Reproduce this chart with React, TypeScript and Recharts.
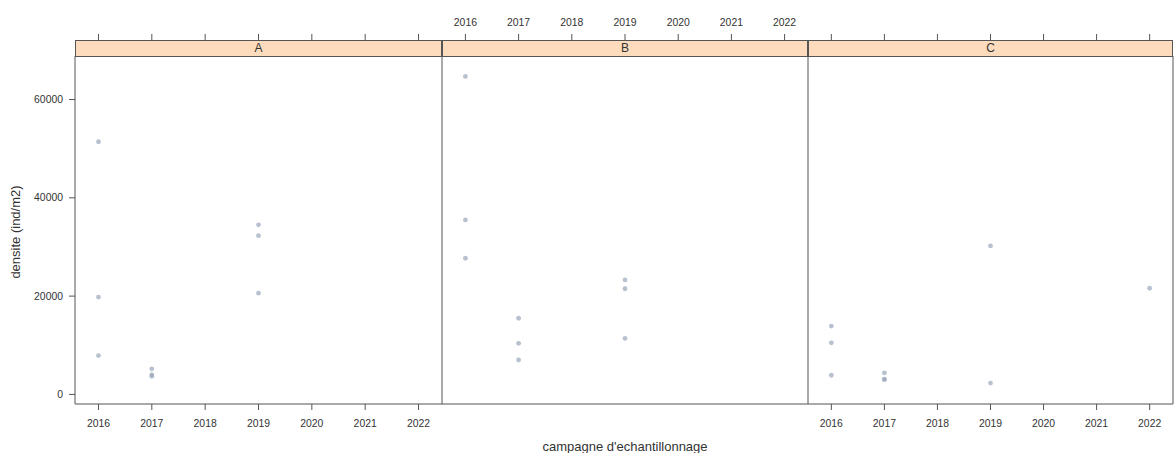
import { ScatterChart, Scatter, XAxis, YAxis } from 'recharts';

// campagnes (années) et densités relevées, par station
const annees = [2016, 2017, 2018, 2019, 2020, 2021, 2022];
const densiteTicks = [0, 20000, 40000, 60000];

const anneeA = [2016, 2016, 2016, 2017, 2017, 2017, 2019, 2019, 2019];
const densiteA = [51400, 19800, 7900, 5200, 4000, 3700, 34500, 32300, 20600];

const anneeB = [2016, 2016, 2016, 2017, 2017, 2017, 2019, 2019, 2019];
const densiteB = [64700, 35500, 27700, 15500, 10400, 7000, 23300, 21500, 11400];

const anneeC = [2016, 2016, 2016, 2017, 2017, 2017, 2019, 2019, 2022];
const densiteC = [13900, 10500, 3900, 4400, 3100, 3000, 30200, 2300, 21600];

const xDomain = [2015.56, 2022.44];
const yDomain = [-1950, 68850];

const font = '"Liberation Sans", Arial, sans-serif';
const frame = '#555';
const textCol = '#333';
const stripBg = '#fcdcbc';
const pointCol = '#9aa6ba';

const STRIP_TOP = 40;
const PLOT_TOP = 56;
const H = 453;

const toPoints = (x: number[], y: number[]) => x.map((a, i) => ({ annee: a, densite: y[i] }));

const TopTick = ({ x, y, payload, showLabel }: any) => (
    <g>
        <line x1={x} x2={x} y1={y - (PLOT_TOP - STRIP_TOP)} y2={y - (PLOT_TOP - STRIP_TOP) - 6} stroke={frame} />
        {showLabel && (
            <text x={x} y={y - 30} textAnchor="middle" fontSize={10.4} fill={textCol}>
                {payload.value}
            </text>
        )}
    </g>
);

const Point = (p: any) => <circle cx={p.cx} cy={p.cy} r={2.4} fill={pointCol} fillOpacity={0.7} />;

type PanelProps = {
    name: string;
    left: number;
    yAxisWidth: number;
    plotWidth: number;
    x: number[];
    y: number[];
    yLabels: boolean;
    topLabels: boolean;
    bottomLabels: boolean;
    rightBorder: boolean;
};

const Panel = ({ name, left, yAxisWidth, plotWidth, x, y, yLabels, topLabels, bottomLabels, rightBorder }: PanelProps) => {
    const rightWidth = rightBorder ? 1 : 0;
    const width = yAxisWidth + plotWidth + rightWidth;
    return (
        <div style={{ position: 'absolute', left, top: 0 }}>
            <ScatterChart width={width} height={H} margin={{ top: 0, right: 0, bottom: 0, left: 0 }}>
                <XAxis
                    xAxisId="top"
                    orientation="top"
                    type="number"
                    dataKey="annee"
                    domain={xDomain}
                    allowDataOverflow
                    ticks={annees}
                    interval={0}
                    height={PLOT_TOP}
                    tickSize={0}
                    tickMargin={0}
                    tickLine={false}
                    axisLine={{ stroke: frame }}
                    tick={(p: any) => <TopTick {...p} showLabel={topLabels} />}
                />
                <XAxis
                    xAxisId="bottom"
                    orientation="bottom"
                    type="number"
                    dataKey="annee"
                    domain={xDomain}
                    allowDataOverflow
                    ticks={annees}
                    interval={0}
                    height={H - 404}
                    tickSize={6}
                    tickMargin={10}
                    tickLine={{ stroke: frame }}
                    axisLine={{ stroke: frame }}
                    tick={bottomLabels ? { fontSize: 10.4, fill: textCol } : false}
                />
                <YAxis
                    yAxisId="left"
                    type="number"
                    dataKey="densite"
                    domain={yDomain}
                    allowDataOverflow
                    ticks={densiteTicks}
                    interval={0}
                    width={yAxisWidth}
                    tickSize={6}
                    tickMargin={6}
                    tickLine={yLabels ? { stroke: frame } : false}
                    axisLine={{ stroke: frame }}
                    tick={yLabels ? { fontSize: 10.4, fill: textCol } : false}
                />
                {rightBorder && (
                    <YAxis
                        yAxisId="right"
                        orientation="right"
                        type="number"
                        domain={yDomain}
                        allowDataOverflow
                        width={rightWidth}
                        tick={false}
                        tickLine={false}
                        axisLine={{ stroke: frame }}
                    />
                )}
                <Scatter
                    xAxisId="bottom"
                    yAxisId="left"
                    data={toPoints(x, y)}
                    shape={Point}
                    isAnimationActive={false}
                />
            </ScatterChart>
            <div
                style={{
                    position: 'absolute',
                    left: yAxisWidth,
                    top: STRIP_TOP,
                    width: plotWidth,
                    height: PLOT_TOP - STRIP_TOP + 1,
                    boxSizing: 'border-box',
                    border: `1px solid ${frame}`,
                    background: stripBg,
                    fontSize: 12,
                    lineHeight: '14px',
                    textAlign: 'center',
                    color: textCol,
                }}
            >
                {name}
            </div>
        </div>
    );
};

const App = () => (
    <div style={{ position: 'absolute', left: 0, top: 0, width: 1174, height: H, background: '#fff', fontFamily: font }}>
        <Panel name="A" left={0} yAxisWidth={75} plotWidth={367} x={anneeA} y={densiteA} yLabels topLabels={false} bottomLabels rightBorder={false} />
        <Panel name="B" left={441} yAxisWidth={1} plotWidth={366} x={anneeB} y={densiteB} yLabels={false} topLabels bottomLabels={false} rightBorder={false} />
        <Panel name="C" left={807} yAxisWidth={1} plotWidth={365} x={anneeC} y={densiteC} yLabels={false} topLabels={false} bottomLabels rightBorder />
        <svg width={1174} height={H} style={{ position: 'absolute', left: 0, top: 0, pointerEvents: 'none' }}>
            <text x={625} y={446} textAnchor="middle" dominantBaseline="central" fontSize={13} fill={textCol}>
                campagne d'echantillonnage
            </text>
            <text transform="translate(15,232) rotate(-90)" textAnchor="middle" dominantBaseline="central" fontSize={13} fill={textCol}>
                densite (ind/m2)
            </text>
        </svg>
    </div>
);

export default App;
